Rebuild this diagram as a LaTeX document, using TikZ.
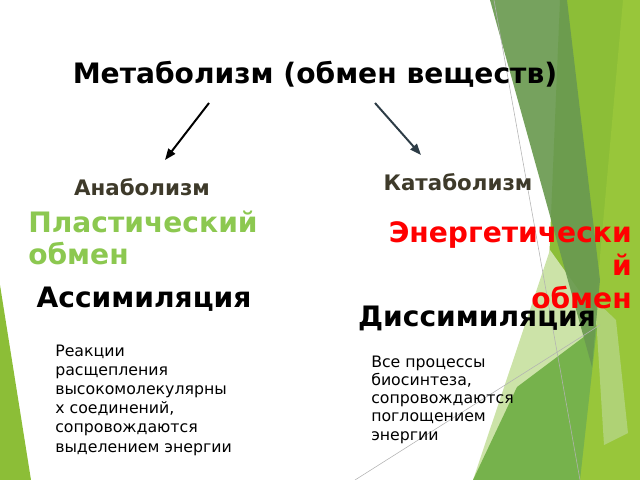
\documentclass[tikz,border=0pt]{standalone}
\usepackage{fontspec}
\setmainfont{DejaVu Sans}
\usetikzlibrary{arrows.meta}
\definecolor{facetdark}{RGB}{106,154,80}
\definecolor{facetbright}{RGB}{140,190,55}
\definecolor{facetlight}{RGB}{152,198,58}
\definecolor{facetmid}{RGB}{118,178,76}
\definecolor{facetpale}{RGB}{204,227,168}
\definecolor{plastgreen}{RGB}{140,200,80}
\definecolor{headbrown}{RGB}{62,58,42}
\definecolor{slatearrow}{RGB}{45,60,70}

\begin{document}
\begin{tikzpicture}[
    x=0.025cm, y=0.025cm,
    big/.style={font=\bfseries\fontsize{20}{22.7}\selectfont, inner sep=0pt},
    sub/.style={font=\bfseries\fontsize{15.2}{18}\selectfont, inner sep=0pt, text=headbrown},
    body/.style={font=\fontsize{11.2}{13.6}\selectfont, inner sep=0pt, align=left, anchor=base west},
    every edge/.append style={line width=1.4pt, -{Triangle[length=8pt,width=6pt]}}
]
   \useasboundingbox (0,0) rectangle (640,-480);

   % Background facets
   \fill[facetbright] (560,0) -- (640,0) -- (640,-480) -- (540,-480) -- cycle;
   \fill[facetlight] (623,0) -- (640,0) -- (640,-480) -- (580,-480) -- cycle;
   \fill[facetpale] (550,-250) -- (600,-320) -- (473,-480) -- cycle;
   \fill[facetpale!55!facetbright] (595,-300) -- (616,-320) -- (628,-433) -- (604,-445) -- cycle;
   \fill[facetmid] (473,-480) -- (517,-387) -- (597,-327) -- (580,-480) -- cycle;
   \fill[facetdark, opacity=0.92] (490,0) -- (567,0) -- (600,-280) -- (592,-367) -- cycle;
   \fill[facetbright] (0,-285) -- (31,-480) -- (0,-480) -- cycle;
   \draw[gray!60, line width=0.4pt] (494,0) -- (580,-480);
   \draw[gray!60, line width=0.4pt] (355,-480) -- (600,-325);

   % Headings
   \node[big, anchor=base] (title) at (315,-83) {Метаболизм (обмен веществ)};
   \node[sub, anchor=base] (anab) at (142,-195) {Анаболизм};
   \node[sub, anchor=base] (katab) at (458,-190) {Катаболизм};
   \node[big, text=plastgreen, align=left, anchor=base west] (plast) at (28,-264) {Пластический\\обмен};
   \node[big, text=red, align=right, anchor=base east,
         font=\bfseries\fontsize{20}{23.4}\selectfont] (energ) at (632,-308) {Энергетически\\й\\обмен};
   \node[big, anchor=base] (assim) at (144,-307) {Ассимиляция};
   \node[big, anchor=base] (dissim) at (477,-326) {Диссимиляция};

   % Descriptions
   \node[body] (reac) at (55,-452) {Реакции\\расщепления\\высокомолекулярны\\х соединений,\\сопровождаются\\выделением энергии};
   \node[body, font=\fontsize{11.2}{12.9}\selectfont] (proc) at (371,-440) {Все процессы\\биосинтеза,\\сопровождаются\\поглощением\\энергии};

   % Arrows
   \coordinate (la) at (209,-103);
   \coordinate (lb) at (165,-160);
   \coordinate (ra) at (375,-103);
   \coordinate (rb) at (421,-155);
   \path (la) edge[black] (lb)
         (ra) edge[slatearrow] (rb);
\end{tikzpicture}
\end{document}
